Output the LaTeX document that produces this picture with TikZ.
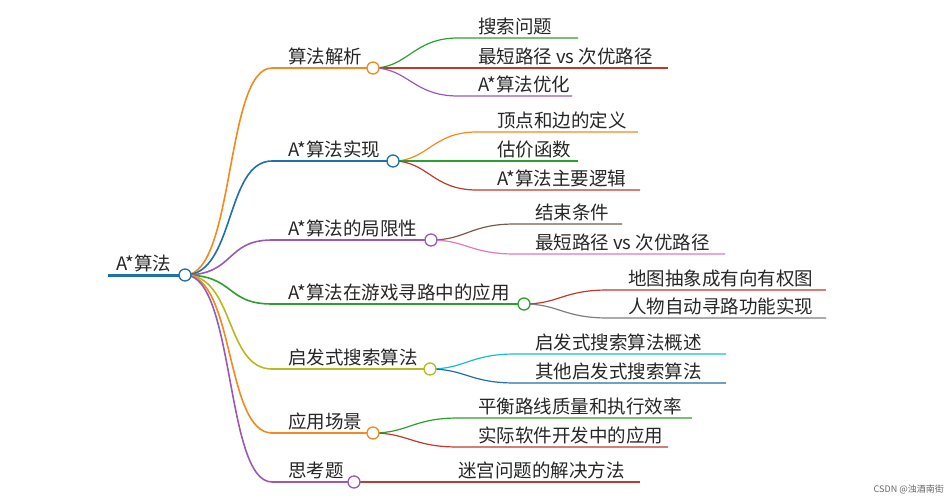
\documentclass[tikz,border=0pt]{standalone}
\usepackage{fontspec}
\newfontfamily\cjk{Noto Sans CJK SC}
\begin{document}
\begin{tikzpicture}[x=1pt,y=-1pt,
  lbl/.style={anchor=south west,inner sep=0pt,font=\cjk\fontsize{18.5}{20}\selectfont,text=black!85,yshift=3pt},
  br/.style={line width=1.6pt},
  dot/.style={circle,draw,line width=1.3pt,fill=white,minimum size=12pt,inner sep=0pt}]
\definecolor{cor}{HTML}{F28A1E}\definecolor{cbl}{HTML}{1F6FA8}\definecolor{cpu}{HTML}{9B59B6}
\definecolor{cgr}{HTML}{2CA02C}\definecolor{col}{HTML}{B8B820}\definecolor{cre}{HTML}{C0392B}
\definecolor{cbr}{HTML}{7A5A4A}\definecolor{cpk}{HTML}{E377C2}\definecolor{cgy}{HTML}{7F7F7F}
\definecolor{ccy}{HTML}{17BECF}
\useasboundingbox (0,0) rectangle (949,500);
\draw[cbl,line width=3pt] (108,275) -- (185,275);
\node[lbl] (root) at (116,275) {A*算法};
\foreach \n/\y/\cx/\c/\t in {b1/68/373/cor/算法解析, b2/161/393/cbl/A*算法实现, b3/240/431/cpu/A*算法的局限性, b4/304/524/cgr/A*算法在游戏寻路中的应用, b5/369/430/col/启发式搜索算法, b6/433/373/cor/应用场景, b7/482/354/cpu/思考题}{
  \draw[\c,br] (185,275) .. controls (235,275) and (225,\y) .. (272,\y) -- (\cx,\y);
  \node[lbl] (\n t) at (288,\y) {\t};
  \coordinate (\n) at (\cx,\y);
}
\foreach \p/\n/\y/\tx/\ex/\c/\t in {
 b1/c11/38/478/578/cgr/搜索问题, b1/c12/68/478/668/cre/最短路径 vs 次优路径, b1/c13/96/478/572/cpu/A*算法优化,
 b2/c21/132/497/638/cor/顶点和边的定义, b2/c22/161/497/578/cgr/估价函数, b2/c23/190/497/640/cre/A*算法主要逻辑,
 b3/c31/224/535/622/cbr/结束条件, b3/c32/254/535/725/cpk/最短路径 vs 次优路径,
 b4/c41/290/628/826/cre/地图抽象成有向有权图, b4/c42/318/628/826/cgy/人物自动寻路功能实现,
 b5/c51/354/535/726/ccy/启发式搜索算法概述, b5/c52/383/535/726/cbl/其他启发式搜索算法,
 b6/c61/418/478/692/cgr/平衡路线质量和执行效率, b6/c62/447/478/668/cre/实际软件开发中的应用,
 b7/c71/482/458/640/cre/迷宫问题的解决方法}{
  \coordinate (\n s) at (\tx-20,\y);
  \coordinate (\n e) at (\ex,\y);
  \draw[\c,line width=1.2pt] (\p) .. controls ([xshift=35]\p) and ([xshift=-45]\n s) .. (\n s) -- (\n e);
  \node[lbl] (\n) at (\tx,\y) {\t};
}
\foreach \n/\c in {b1/cor,b2/cbl,b3/cpu,b4/cgr,b5/col,b6/cor,b7/cpu}{\node[dot,draw=\c] at (\n) {};}
\node[dot,draw=cbl] (rc) at (185,275) {};
\node[anchor=south east,inner sep=0pt,font=\cjk\fontsize{9}{10}\selectfont,text=black!60] (wm) at (944,494) {CSDN @浊酒南街};
\end{tikzpicture}
\end{document}
